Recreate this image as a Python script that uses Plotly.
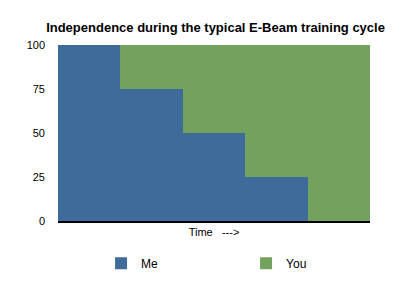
import plotly.graph_objects as go

stages = ["1", "2", "3", "4", "5"]
me = [100, 75, 50, 25, 0]
you = [0, 25, 50, 75, 100]
yticks = [0, 25, 50, 75, 100]

BLUE = "#3F6B9B"
GREEN = "#73A15E"
FONT = "Liberation Sans, Arial, Helvetica, sans-serif"

fig = go.Figure()
fig.add_trace(go.Bar(x=stages, y=me, name="Me", marker=dict(color=BLUE, line=dict(width=0))))
fig.add_trace(go.Bar(x=stages, y=you, name="You", marker=dict(color=GREEN, line=dict(width=0))))

fig.update_layout(
    width=409, height=286,
    barmode="stack", bargap=0,
    margin=dict(l=58, r=39, t=45, b=65, autoexpand=False),
    paper_bgcolor="white", plot_bgcolor="white",
    font=dict(family=FONT, color="black", size=11),
    title=dict(text="<b>Independence during the typical E-Beam training cycle</b>",
               x=0.527, xanchor="center", y=0.905, yanchor="middle",
               font=dict(size=13, family=FONT, color="black")),
    xaxis=dict(showticklabels=False, showline=True, linecolor="black", linewidth=2,
               ticks="", showgrid=False, zeroline=False, automargin=False,
               title=dict(text="Time\u00a0\u00a0\u00a0--->", font=dict(size=11), standoff=6)),
    yaxis=dict(range=[0, 100], tickvals=yticks, ticks="", showline=False, automargin=False,
               showgrid=True, gridcolor="#999999", gridwidth=1, zeroline=False,
               ticklabelstandoff=12, tickfont=dict(size=11)),
    legend=dict(orientation="h", x=0.138, xanchor="left", y=-0.24, yanchor="middle",
                entrywidth=100, entrywidthmode="pixels", font=dict(size=12),
                traceorder="normal", bgcolor="rgba(0,0,0,0)"),
)

fig.write_html("out.html")
